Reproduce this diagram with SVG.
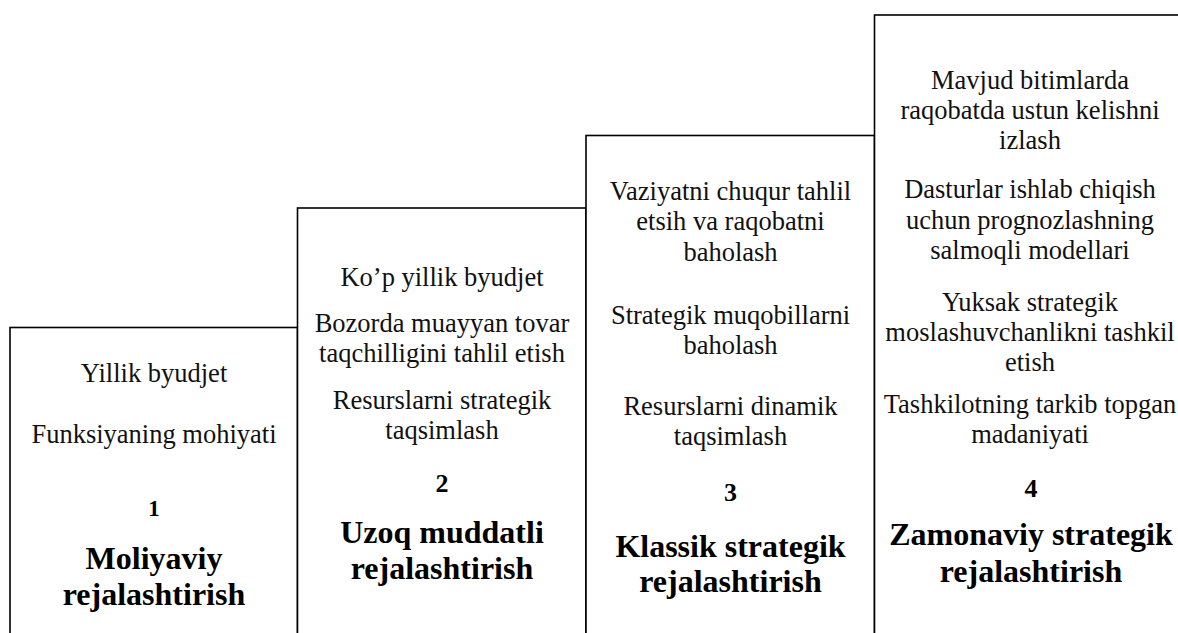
<svg xmlns="http://www.w3.org/2000/svg" width="1178" height="633" viewBox="0 0 1178 633">
  <style>
    .step { fill: #ffffff; stroke: #000000; stroke-width: 1.6; }
    .item { font-family: "Liberation Serif", "Times New Roman", serif; font-size: 26.5px; fill: #111111; text-anchor: middle; }
    .num { font-family: "Liberation Serif", "Times New Roman", serif; font-size: 26px; font-weight: bold; fill: #000000; text-anchor: middle; }
    .num.small { font-size: 23px; }
    .title { font-family: "Liberation Serif", "Times New Roman", serif; font-size: 32px; font-weight: bold; fill: #000000; text-anchor: middle; }
  </style>
  <rect width="1178" height="633" fill="#ffffff"/>

  <!-- Staircase: each step rises higher than the one before -->
  <g id="step-1">
    <rect class="step" x="10" y="327.5" width="287.5" height="400"/>
    <text class="item" x="154" y="382">Yillik byudjet</text>
    <text class="item" x="154" y="443">Funksiyaning mohiyati</text>
    <text class="num small" x="154" y="516">1</text>
    <text class="title" x="154" y="569">Moliyaviy</text>
    <text class="title" x="154" y="605">rejalashtirish</text>
  </g>

  <g id="step-2">
    <rect class="step" x="297.5" y="208" width="288.5" height="500"/>
    <text class="item" x="442" y="286">Ko’p yillik byudjet</text>
    <text class="item" x="442" y="332">Bozorda muayyan tovar</text>
    <text class="item" x="442" y="362">taqchilligini tahlil etish</text>
    <text class="item" x="442" y="409">Resurslarni strategik</text>
    <text class="item" x="442" y="439">taqsimlash</text>
    <text class="num" x="442" y="492">2</text>
    <text class="title" x="442" y="543">Uzoq muddatli</text>
    <text class="title" x="442" y="579">rejalashtirish</text>
  </g>

  <g id="step-3">
    <rect class="step" x="586" y="135.5" width="288.5" height="600"/>
    <text class="item" x="730.5" y="200">Vaziyatni chuqur tahlil</text>
    <text class="item" x="730.5" y="230">etsih va raqobatni</text>
    <text class="item" x="730.5" y="261">baholash</text>
    <text class="item" x="730.5" y="324">Strategik muqobillarni</text>
    <text class="item" x="730.5" y="354">baholash</text>
    <text class="item" x="730.5" y="415">Resurslarni dinamik</text>
    <text class="item" x="730.5" y="445">taqsimlash</text>
    <text class="num" x="730.5" y="501">3</text>
    <text class="title" x="730.5" y="557">Klassik strategik</text>
    <text class="title" x="730.5" y="592">rejalashtirish</text>
  </g>

  <g id="step-4">
    <rect class="step" x="874.5" y="15" width="400" height="700"/>
    <text class="item" x="1030" y="89">Mavjud bitimlarda</text>
    <text class="item" x="1030" y="119">raqobatda ustun kelishni</text>
    <text class="item" x="1030" y="149">izlash</text>
    <text class="item" x="1030" y="198">Dasturlar ishlab chiqish</text>
    <text class="item" x="1030" y="229">uchun prognozlashning</text>
    <text class="item" x="1030" y="259">salmoqli modellari</text>
    <text class="item" x="1030" y="311">Yuksak strategik</text>
    <text class="item" x="1030" y="341">moslashuvchanlikni tashkil</text>
    <text class="item" x="1030" y="371">etish</text>
    <text class="item" x="1030" y="413">Tashkilotning tarkib topgan</text>
    <text class="item" x="1030" y="443">madaniyati</text>
    <text class="num" x="1031" y="497">4</text>
    <text class="title" x="1031" y="545">Zamonaviy strategik</text>
    <text class="title" x="1031" y="582">rejalashtirish</text>
  </g>

  <g id="connectors"></g>
</svg>
